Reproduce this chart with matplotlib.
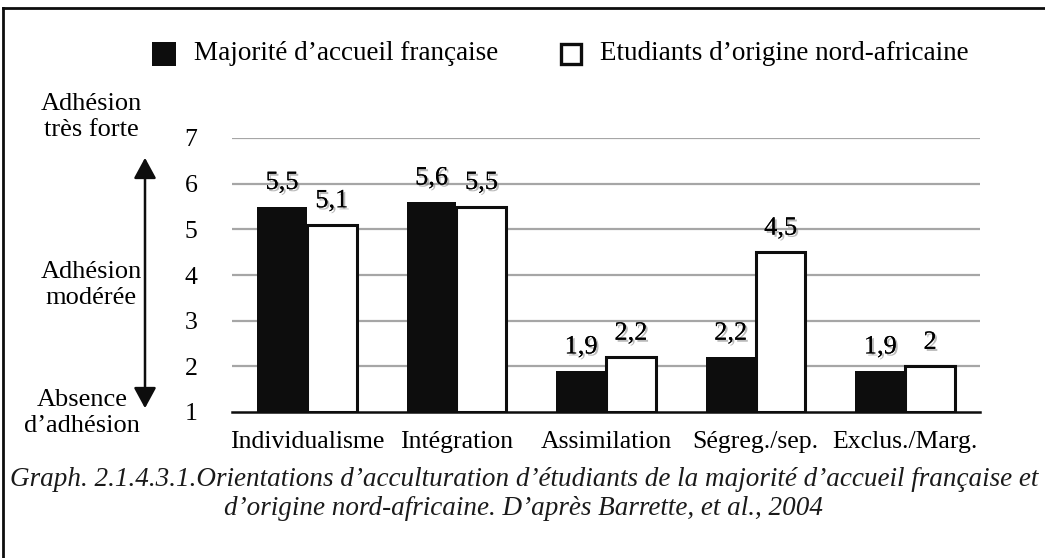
import matplotlib
matplotlib.use("Agg")
import matplotlib.pyplot as plt
import matplotlib.patheffects as pe
from matplotlib.lines import Line2D
from matplotlib.patches import FancyArrowPatch
import numpy as np

categories = ["Individualisme", "Intégration", "Assimilation", "Ségreg./sep.", "Exclus./Marg."]
majorite = [5.5, 5.6, 1.9, 2.2, 1.9]
etudiants = [5.1, 5.5, 2.2, 4.5, 2.0]
labels_maj = ["5,5", "5,6", "1,9", "2,2", "1,9"]
labels_etu = ["5,1", "5,5", "2,2", "4,5", "2"]
series_names = ["Majorité d\u2019accueil française", "Etudiants d\u2019origine nord-africaine"]
yticks = [1, 2, 3, 4, 5, 6, 7]
caption = ("Graph. 2.1.4.3.1.Orientations d\u2019acculturation d\u2019étudiants de la majorité d\u2019accueil française et\n"
           "d\u2019origine nord-africaine. D\u2019après Barrette, et al., 2004")

plt.rcParams['font.family'] = ['Liberation Serif', 'DejaVu Serif']
FS = 18.5

W, H = 1045, 558
fig = plt.figure(figsize=(W / 100, H / 100), dpi=100)
ax = fig.add_axes([232 / W, 1 - 412 / H, (980 - 232) / W, (412 - 138) / H])

x = np.arange(len(categories))
bw = 1 / 3
base = 1
ax.bar(x - bw / 2, np.array(majorite) - base, bw, bottom=base, color="#0d0d0d", edgecolor="#0d0d0d", linewidth=0, zorder=3)
ax.bar(x + bw / 2, np.array(etudiants) - base, bw, bottom=base, color="white", edgecolor="#0d0d0d", linewidth=2.2, zorder=3)

shadow = [pe.withSimplePatchShadow(offset=(1.5, -1.5), shadow_rgbFace="#777777", alpha=0.5), pe.Normal()]
for i in range(len(categories)):
    ax.annotate(labels_maj[i], (x[i] - bw / 2, majorite[i]), xytext=(0, 9), textcoords="offset points",
                ha="center", va="bottom", fontsize=FS + 0.5, path_effects=shadow, zorder=4)
    ax.annotate(labels_etu[i], (x[i] + bw / 2, etudiants[i]), xytext=(0, 9), textcoords="offset points",
                ha="center", va="bottom", fontsize=FS + 0.5, path_effects=shadow, zorder=4)

ax.set_xlim(-0.5, len(categories) - 0.5)
ax.set_ylim(1, 7)
ax.set_yticks(yticks)
ax.set_yticklabels([str(t) for t in yticks], fontsize=FS)
ax.set_xticks(x)
ax.set_xticklabels(categories, fontsize=FS)
ax.tick_params(axis="y", length=0, pad=25)
ax.tick_params(axis="x", length=0, pad=14)
for t in yticks[1:]:
    ax.axhline(t, color="#a6a6a6", linewidth=1.6, zorder=1)
for s in ["top", "right", "left"]:
    ax.spines[s].set_visible(False)
ax.spines["bottom"].set_linewidth(1.8)
ax.spines["bottom"].set_color("#0d0d0d")
ax.spines["bottom"].set_zorder(5)

# legend (manual)
def fx(px):
    return px / W
def fy(py):
    return 1 - py / H

fig.patches.append(plt.Rectangle((fx(152), fy(66)), 24 / W, 24 / H, transform=fig.transFigure,
                                 facecolor="#0d0d0d", edgecolor="#0d0d0d", linewidth=0))
fig.text(fx(194), fy(53), series_names[0], fontsize=19.5, va="center", ha="left")
fig.patches.append(plt.Rectangle((fx(561), fy(64)), 20 / W, 20 / H, transform=fig.transFigure,
                                 facecolor="white", edgecolor="#0d0d0d", linewidth=2.4))
fig.text(fx(600), fy(53), series_names[1], fontsize=19.5, va="center", ha="left")

# left annotations
fig.text(fx(91), fy(117), "Adhésion\ntrès forte", fontsize=FS + 0.5, ha="center", va="center", linespacing=1.25)
fig.text(fx(91), fy(285), "Adhésion\nmodérée", fontsize=FS + 0.5, ha="center", va="center", linespacing=1.25)
fig.text(fx(82), fy(413), "Absence\nd\u2019adhésion", fontsize=FS + 0.5, ha="center", va="center", linespacing=1.25)
arr = FancyArrowPatch((fx(145), fy(155)), (fx(145), fy(411)), transform=fig.transFigure,
                      arrowstyle="<|-|>,head_length=7,head_width=3.8", color="#0d0d0d", linewidth=1.8,
                      mutation_scale=1.8)
fig.patches.append(arr)

# caption
fig.text(fx(524), fy(494), caption, fontsize=19.5, style="italic", ha="center", va="center",
         linespacing=1.2, color="#1a1a1a")

# border
fig.lines.append(Line2D([fx(3), fx(3)], [fy(8), 0], transform=fig.transFigure, color="#0d0d0d", linewidth=2))
fig.lines.append(Line2D([fx(3), 1], [fy(8), fy(8)], transform=fig.transFigure, color="#0d0d0d", linewidth=2))

fig.savefig("out.png", dpi=100)
